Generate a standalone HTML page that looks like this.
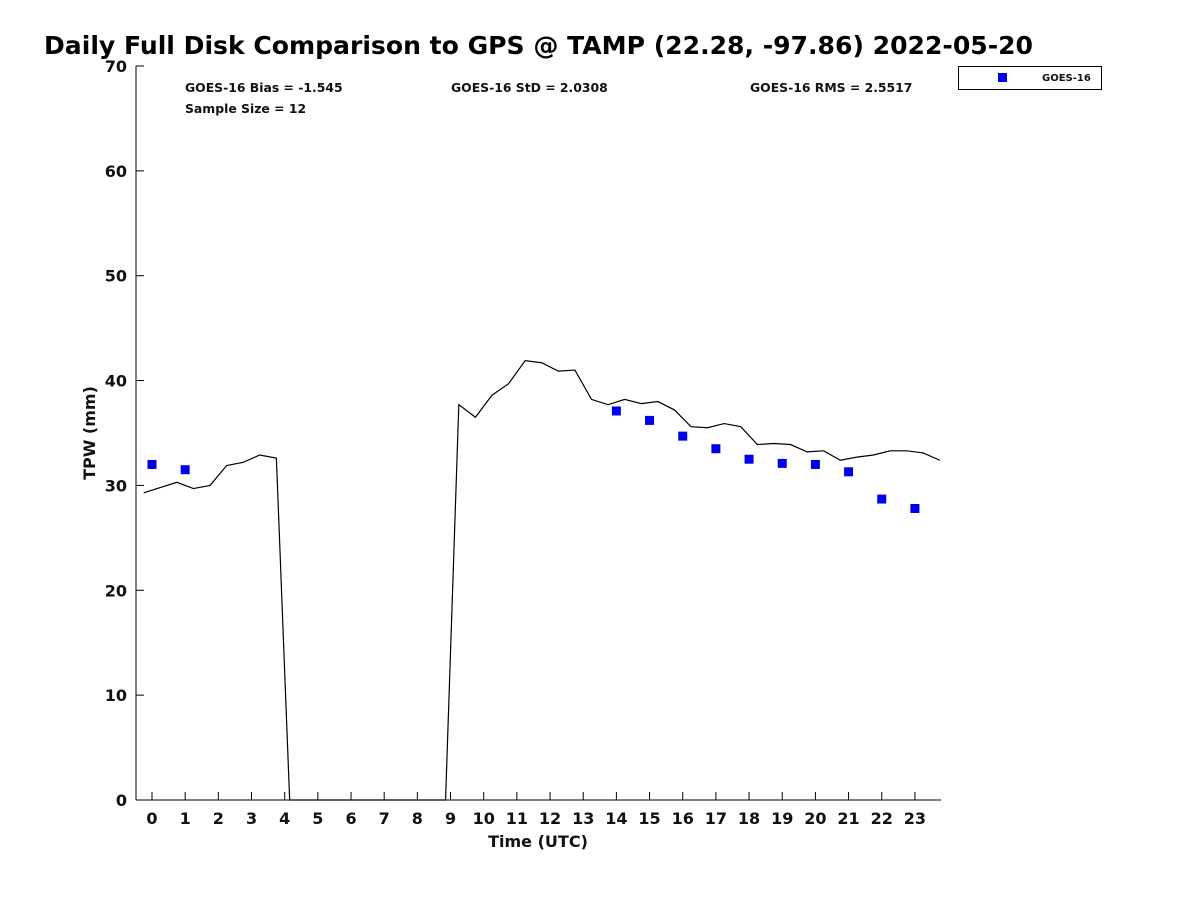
<!DOCTYPE html>
<html><head><meta charset="utf-8"><style>
body{margin:0;background:#fff}
svg{display:block;font-family:"DejaVu Sans","Liberation Sans",sans-serif;font-weight:bold}
</style></head><body>
<svg id="c" width="1200" height="900">
<text x="44" y="54" font-size="24.5" textLength="989" lengthAdjust="spacingAndGlyphs" fill="#000">Daily Full Disk Comparison to GPS @ TAMP (22.28, -97.86) 2022-05-20</text>
<rect x="136" y="66" width="805" height="734" fill="none" stroke="none"/>
<line x1="136" y1="66" x2="136" y2="800" stroke="#000"/>
<line x1="136" y1="800" x2="941" y2="800" stroke="#000"/>
<g id="yt" fill="#111"></g><g id="xt" fill="#111"></g>
<text x="95" y="433" text-anchor="middle" font-size="16" fill="#111" transform="rotate(-90 95 433)">TPW (mm)</text>
<text x="538" y="847" text-anchor="middle" font-size="16" fill="#111">Time (UTC)</text>
<text x="185" y="92" font-size="12.4" fill="#111">GOES-16 Bias = -1.545</text>
<text x="185" y="113" font-size="12.4" fill="#111">Sample Size = 12</text>
<text x="451" y="92" font-size="12.4" fill="#111">GOES-16 StD = 2.0308</text>
<text x="750" y="92" font-size="12.4" fill="#111">GOES-16 RMS = 2.5517</text>
<g>
<rect x="958.5" y="66.5" width="143" height="23" fill="#fff" stroke="#000"/>
<rect x="998" y="73" width="9" height="9" fill="#0000ee"/>
<text x="1042" y="81" font-size="10" fill="#111">GOES-16</text>
</g>
<g id="plot"></g>
</svg>
<script>
const gpsTimes=[-0.25,0.75,1.25,1.75,2.25,2.75,3.25,3.75,4.15,8.85,9.25,9.75,10.25,10.75,11.25,11.75,12.25,12.75,13.25,13.75,14.25,14.75,15.25,15.75,16.25,16.75,17.25,17.75,18.25,18.75,19.25,19.75,20.25,20.75,21.25,21.75,22.25,22.75,23.25,23.75];
const gpsValues=[29.3,30.3,29.7,30.0,31.9,32.2,32.9,32.6,0,0,37.7,36.5,38.6,39.7,41.9,41.7,40.9,41.0,38.2,37.7,38.2,37.8,38.0,37.2,35.6,35.5,35.9,35.6,33.9,34.0,33.9,33.2,33.3,32.4,32.7,32.9,33.3,33.3,33.1,32.4];
const goesHours=[0,1,14,15,16,17,18,19,20,21,22,23];
const goesValues=[32.0,31.5,37.1,36.2,34.7,33.5,32.5,32.1,32.0,31.3,28.7,27.8];
const yTicks=[0,10,20,30,40,50,60,70];
const xTicks=[0,1,2,3,4,5,6,7,8,9,10,11,12,13,14,15,16,17,18,19,20,21,22,23];
const NS="http://www.w3.org/2000/svg";
const X=t=>152+t*33.17, Y=v=>800-v*10.486;
function mk(tag,attrs,parent){const e=document.createElementNS(NS,tag);for(const k in attrs)e.setAttribute(k,attrs[k]);parent.appendChild(e);return e;}
const yt=document.getElementById('yt'),xt=document.getElementById('xt'),plot=document.getElementById('plot');
yTicks.forEach(v=>{
 const l=mk('line',{x1:136,x2:144,y1:Y(v),y2:Y(v),stroke:'#000'},yt);
 
 
 const t=mk('text',{x:127,y:Y(v)+6,'text-anchor':'end','font-size':16},yt);t.textContent=v;
 
 
});
xTicks.forEach(h=>{
 const l=mk('line',{x1:X(h),x2:X(h),y1:800,y2:792,stroke:'#000'},xt);
 
 
 const t=mk('text',{x:X(h),y:824,'text-anchor':'middle','font-size':16},xt);t.textContent=h;
 
 
});
const pl=mk('polyline',{points:gpsTimes.map((t,i)=>X(t)+','+Y(gpsValues[i])).join(' '),fill:'none',stroke:'#000','stroke-width':1.2},plot);


goesHours.forEach((h,i)=>{
 const r=mk('rect',{x:X(h)-4.5,y:Y(goesValues[i])-4.5,width:9,height:9,fill:'#0000ee'},plot);
 
 
});
</script>
</body></html>
